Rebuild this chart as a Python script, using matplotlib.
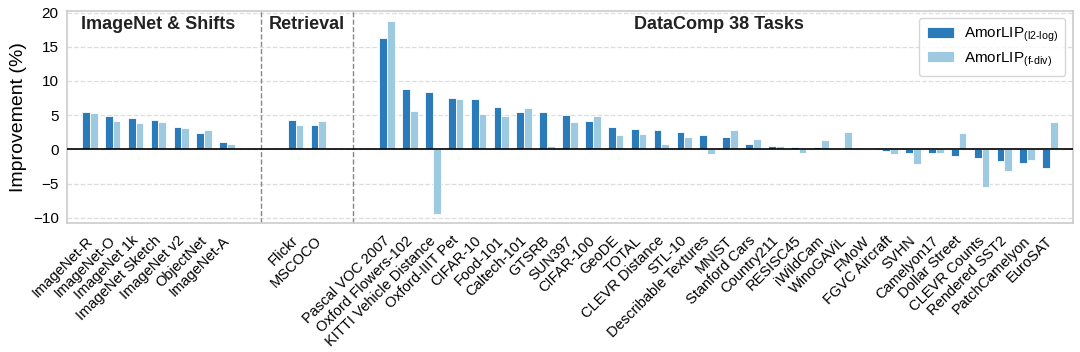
import numpy as np
import matplotlib.pyplot as plt
import matplotlib.transforms as mtransforms

plt.rcParams['font.family'] = ['Liberation Sans', 'DejaVu Sans']
plt.rcParams['mathtext.fontset'] = 'custom'
plt.rcParams['mathtext.rm'] = 'Liberation Sans'
plt.rcParams['mathtext.it'] = 'Liberation Sans:italic'

# group sizes and tasks
imagenet_tasks = ['ImageNet-R', 'ImageNet-O', 'ImageNet 1k', 'ImageNet Sketch',
                  'ImageNet v2', 'ObjectNet', 'ImageNet-A']
retrieval_tasks = ['Flickr', 'MSCOCO']
datacomp_tasks = ['Pascal VOC 2007', 'Oxford Flowers-102', 'KITTI Vehicle Distance',
                  'Oxford-IIIT Pet', 'CIFAR-10', 'Food-101', 'Caltech-101', 'GTSRB',
                  'SUN397', 'CIFAR-100', 'GeoDE', 'TOTAL', 'CLEVR Distance', 'STL-10',
                  'Describable Textures', 'MNIST', 'Stanford Cars', 'Country211',
                  'RESISC45', 'iWildCam', 'WinoGAViL', 'FMoW', 'FGVC Aircraft', 'SVHN',
                  'Camelyon17', 'Dollar Street', 'CLEVR Counts', 'Rendered SST2',
                  'PatchCamelyon', 'EuroSAT']

# improvement (%)
imagenet_l2log = [5.4, 4.85, 4.6, 4.3, 3.3, 2.35, 1.05]
imagenet_fdiv = [5.25, 4.2, 3.9, 4.05, 3.15, 2.8, 0.85]
retrieval_l2log = [4.3, 3.55]
retrieval_fdiv = [3.55, 4.15]
datacomp_l2log = [16.35, 8.8, 8.35, 7.5, 7.3, 6.2, 5.4, 5.4, 5.0, 4.2, 3.25, 2.95,
                  2.8, 2.5, 2.15, 1.75, 0.85, 0.55, 0.4, 0.3, 0.0, 0.0, -0.3, -0.5,
                  -0.55, -1.0, -1.25, -1.7, -1.95, -2.75]
datacomp_fdiv = [18.7, 5.55, -9.4, 7.4, 5.2, 4.9, 6.1, 0.55, 3.95, 4.9, 2.15, 2.2,
                 0.8, 1.85, -0.7, 2.8, 1.5, 0.45, -0.55, 1.4, 2.5, 0.0, -0.7, -2.2,
                 -0.5, 2.4, -5.45, -3.1, -1.5, 4.0]

labels = imagenet_tasks + retrieval_tasks + datacomp_tasks
l2log = np.array(imagenet_l2log + retrieval_l2log + datacomp_l2log)
fdiv = np.array(imagenet_fdiv + retrieval_fdiv + datacomp_fdiv)

gap = 2
n1, n2, n3 = len(imagenet_tasks), len(retrieval_tasks), len(datacomp_tasks)
x1 = np.arange(n1)
x2 = np.arange(n2) + n1 + gap
x3 = np.arange(n3) + n1 + gap + n2 + gap
x = np.concatenate([x1, x2, x3])

c_dark = '#2b7bba'
c_light = '#9ecae1'
w = 0.34

fig = plt.figure(figsize=(10.8, 3.52), dpi=100)
ax = fig.add_axes([0.062, 0.366, 0.9315, 0.604])

ax.bar(x - w / 2, l2log, w, color=c_dark, edgecolor='white', linewidth=0.6,
       label=r'AmorLIP$_{\mathrm{(l2\text{-}log)}}$', zorder=3)
ax.bar(x + w / 2, fdiv, w, color=c_light, edgecolor='white', linewidth=0.6,
       label=r'AmorLIP$_{\mathrm{(f\text{-}div)}}$', zorder=3)

ax.axhline(0, color='black', linewidth=1.2, zorder=4)
ax.axvline((x1[-1] + x2[0]) / 2, color='#888888', linestyle='--', linewidth=1, zorder=2)
ax.axvline((x2[-1] + x3[0]) / 2, color='#888888', linestyle='--', linewidth=1, zorder=2)

ax.set_xlim(-1, x3[-1] + 1)
ax.set_ylim(-10.8, 20.3)
ax.set_yticks([-10, -5, 0, 5, 10, 15, 20])
ax.yaxis.grid(True, linestyle='--', color='#dddddd', linewidth=0.9, zorder=0)
ax.set_axisbelow(True)
ax.tick_params(axis='y', labelsize=11, length=0, pad=6)
ax.tick_params(axis='x', length=0, pad=7.5)
ax.set_xticks(x)
ax.set_xticklabels(labels, rotation=45, ha='right', rotation_mode='anchor', fontsize=10.5)
shift = mtransforms.ScaledTranslation(-0.045, 0, fig.dpi_scale_trans)
for lab in ax.get_xticklabels():
    lab.set_transform(lab.get_transform() + shift)
ax.set_ylabel('Improvement (%)', fontsize=14)

for s in ax.spines.values():
    s.set_color('#cccccc')
    s.set_linewidth(1.2)

ty = 18.2
ax.text(x1.mean(), ty, 'ImageNet & Shifts', ha='center', va='center',
        fontsize=13, fontweight='bold', color='#222222')
ax.text(x2.mean(), ty, 'Retrieval', ha='center', va='center',
        fontsize=13, fontweight='bold', color='#222222')
ax.text(x3.mean(), ty, 'DataComp 38 Tasks', ha='center', va='center',
        fontsize=13, fontweight='bold', color='#222222')

ax.legend(loc='upper right', fontsize=11, frameon=True, edgecolor='#cccccc',
          handlelength=1.8, handletextpad=0.6, borderpad=0.5, labelspacing=0.4)

fig.savefig('out.png', dpi=100)
